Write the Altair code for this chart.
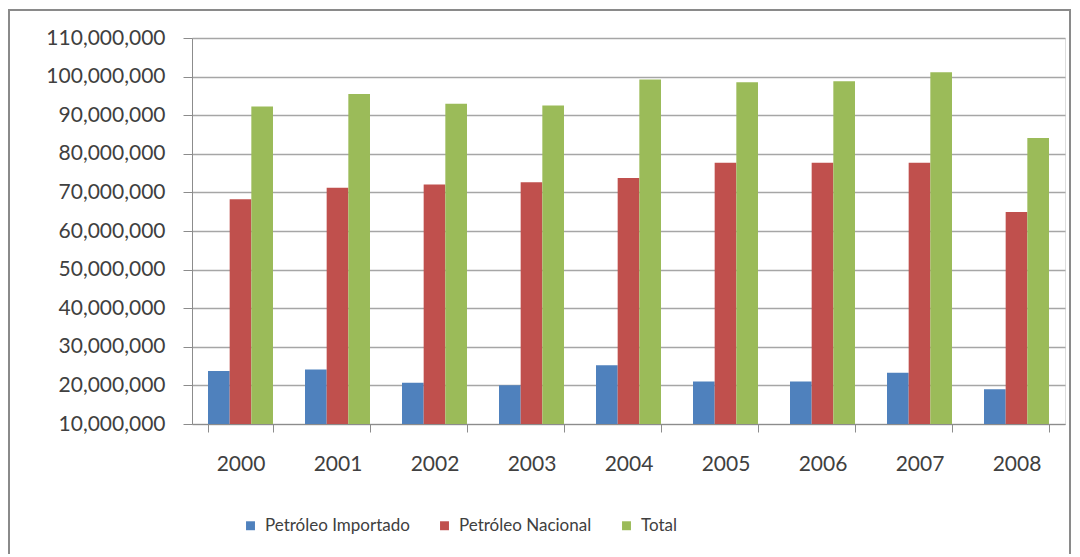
import altair as alt
import pandas as pd

years = ["2000", "2001", "2002", "2003", "2004", "2005", "2006", "2007", "2008"]
series = ["Petróleo Importado", "Petróleo Nacional", "Total"]
importado = [23.7, 24.1, 20.7, 20.05, 25.2, 21.0, 21.0, 23.3, 19.0]
nacional = [68.2, 71.2, 72.05, 72.65, 73.7, 77.7, 77.7, 77.7, 64.9]
total = [92.25, 95.5, 92.95, 92.5, 99.25, 98.55, 98.8, 101.1, 84.1]
y_ticks = [10_000_000, 20_000_000, 30_000_000, 40_000_000, 50_000_000, 60_000_000,
           70_000_000, 80_000_000, 90_000_000, 100_000_000, 110_000_000]
colors = ["#4F81BD", "#C0504D", "#9BBB59"]

rows = []
for i, yr in enumerate(years):
    for s, vals in zip(series, [importado, nacional, total]):
        rows.append({"year": yr, "serie": s, "value": vals[i] * 1_000_000})
df = pd.DataFrame(rows)

FONT = "Lato"
TXT = "#404040"
AX = "#8c8c8c"

bars = alt.Chart(df).mark_bar(clip=True).encode(
    x=alt.X("year:N", sort=years, title=None,
            scale=alt.Scale(paddingInner=0.33, paddingOuter=0.165),
            axis=alt.Axis(labelAngle=0, tickBand="extent", tickSize=8, labelPadding=21,
                          domainColor=AX, tickColor=AX, grid=False,
                          labelFont=FONT, labelFontSize=21, labelColor=TXT)),
    xOffset=alt.XOffset("serie:N", sort=series, scale=alt.Scale(paddingInner=0, paddingOuter=0)),
    y=alt.Y("value:Q", title=None,
            scale=alt.Scale(domain=[y_ticks[0], y_ticks[-1]], nice=False, zero=False),
            axis=alt.Axis(values=y_ticks, format=",d", tickSize=9, labelPadding=18,
                          domainColor=AX, tickColor=AX, gridColor="#a6a6a6", gridWidth=1.3,
                          labelFont=FONT, labelFontSize=21, labelColor=TXT)),
    color=alt.Color("serie:N", sort=series,
                    scale=alt.Scale(domain=series, range=colors),
                    legend=alt.Legend(title=None, orient="none", legendX=50, legendY=479,
                                      direction="horizontal", symbolType="square",
                                      symbolSize=80, symbolStrokeWidth=0,
                                      labelFont=FONT, labelFontSize=17, labelColor=TXT,
                                      labelLimit=400, columnPadding=26, labelOffset=6)),
)

frame = alt.Chart(pd.DataFrame({"a": [0]})).mark_rect(
    filled=False, stroke="#8a8a8a", strokeWidth=2
).encode(
    x=alt.value(-183), x2=alt.value(878), y=alt.value(-28), y2=alt.value(600)
)

chart = alt.layer(frame, bars).properties(
    width=873, height=386,
    autosize=alt.AutoSizeParams(type="none"),
    padding={"left": 184, "top": 30, "right": 7, "bottom": 130},
).configure_view(stroke=None).configure(background="white")

chart.save("out.html", embed_options={"renderer": "svg", "actions": False})
